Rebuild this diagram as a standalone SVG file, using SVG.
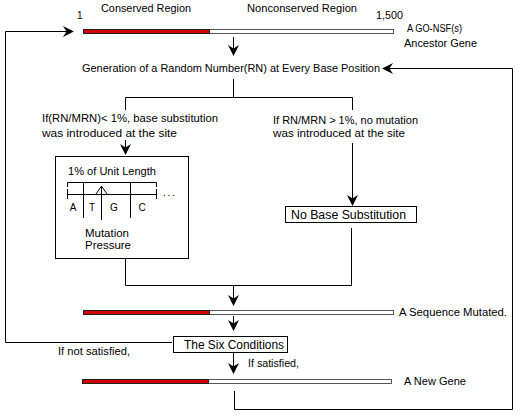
<svg xmlns="http://www.w3.org/2000/svg" width="523" height="416" viewBox="0 0 523 416">
<defs>
<style>
text{font-family:"Liberation Sans",Arial,sans-serif;font-size:10px;fill:#000}
.big{font-size:12px}
.ln{fill:none;stroke:#000;stroke-width:1}
.box{fill:#fff;stroke:#000;stroke-width:1}
.barw{fill:#fff;stroke:#555;stroke-width:1}
.barr{fill:#d00000;stroke:#222;stroke-width:1}
</style>
<marker id="ah" viewBox="0 0 12 12" refX="11" refY="6" markerWidth="12" markerHeight="11" orient="auto" markerUnits="userSpaceOnUse">
<path d="M0,0 L12,6 L0,12 L4,6 Z" fill="#000"/>
</marker>
</defs>
<rect width="523" height="416" fill="#fff"/>

<g id="connectors">
<path class="ln" d="M233.5,37 V55" marker-end="url(#ah)"/>
<path class="ln" d="M172,342.5 H5.5 V31.5 H73" marker-end="url(#ah)"/>
<path class="ln" d="M234.5,391 V409.5 H512.5 V68.5 H383" marker-end="url(#ah)"/>
<path class="ln" d="M233.5,79 V97.5"/>
<path class="ln" d="M125.5,110 V97.5 H352.5 V110"/>
<path class="ln" d="M125.5,140 V154" marker-end="url(#ah)"/>
<path class="ln" d="M352.5,143 V205" marker-end="url(#ah)"/>
<path class="ln" d="M125.5,259 V285.5 H351.5 V228"/>
<path class="ln" d="M233.5,285.5 V305" marker-end="url(#ah)"/>
<path class="ln" d="M233.5,316 V330" marker-end="url(#ah)"/>
<path class="ln" d="M233.5,353 V373" marker-end="url(#ah)"/>
</g>

<g id="ancestor-gene">
<rect class="barw" x="83.5" y="29.5" width="310" height="4"/>
<rect class="barr" x="83.5" y="29.5" width="126" height="4"/>
<text x="77" y="19">1</text>
<text x="101" y="12" textLength="90" lengthAdjust="spacingAndGlyphs">Conserved Region</text>
<text x="247" y="12" textLength="110" lengthAdjust="spacingAndGlyphs">Nonconserved Region</text>
<text x="376" y="19" textLength="27" lengthAdjust="spacingAndGlyphs">1,500</text>
<text x="407" y="32" textLength="55" lengthAdjust="spacingAndGlyphs">A GO-NSF(s)</text>
<text x="404" y="47" textLength="73" lengthAdjust="spacingAndGlyphs">Ancestor Gene</text>
</g>

<g id="generation">
<text x="82" y="72" textLength="298" lengthAdjust="spacingAndGlyphs">Generation of a Random Number(RN) at Every Base Position</text>
</g>

<g id="cond-left">
<text x="42" y="122" textLength="176" lengthAdjust="spacingAndGlyphs">If(RN/MRN)&lt; 1%, base substitution</text>
<text x="42" y="137" textLength="135" lengthAdjust="spacingAndGlyphs">was introduced at the site</text>
</g>

<g id="cond-right">
<text x="273" y="124" textLength="145" lengthAdjust="spacingAndGlyphs">If RN/MRN &gt; 1%, no mutation</text>
<text x="273" y="137" textLength="132" lengthAdjust="spacingAndGlyphs">was introduced at the site</text>
</g>

<g id="mutation-box">
<rect class="box" x="55.5" y="156.5" width="133" height="102"/>
<text x="68" y="175" textLength="88" lengthAdjust="spacingAndGlyphs">1% of Unit Length</text>
<path class="ln" d="M67.5,187 V182.5 H156.5 V187"/>
<path class="ln" d="M67.5,194.5 H156.5 M67.5,189 V199 M156.5,189 V199"/>
<path class="ln" d="M83.5,183 V218 M130.5,183 V218"/>
<path class="ln" d="M101.5,187 V220 M96,194 L101.5,186 L107,194"/>
<text x="163" y="196" textLength="12" lengthAdjust="spacing">. . .</text>
<text x="73" y="211" text-anchor="middle">A</text>
<text x="92" y="211" text-anchor="middle">T</text>
<text x="114" y="211" text-anchor="middle">G</text>
<text x="142" y="211" text-anchor="middle">C</text>
<text x="85" y="237" textLength="44" lengthAdjust="spacingAndGlyphs">Mutation</text>
<text x="85" y="249" textLength="46" lengthAdjust="spacingAndGlyphs">Pressure</text>
</g>

<g id="no-substitution">
<rect class="box" x="285.5" y="206.5" width="131" height="16"/>
<text class="big" x="291" y="219" textLength="115" lengthAdjust="spacingAndGlyphs">No Base Substitution</text>
</g>

<g id="mutated-sequence">
<rect class="barw" x="83.5" y="310.5" width="310" height="4"/>
<rect class="barr" x="83.5" y="310.5" width="126" height="4"/>
<text x="399" y="316" textLength="108" lengthAdjust="spacingAndGlyphs">A Sequence Mutated.</text>
</g>

<g id="six-conditions">
<rect class="box" x="173.5" y="336.5" width="114" height="16"/>
<text class="big" x="184" y="348.5" textLength="100" lengthAdjust="spacingAndGlyphs">The Six Conditions</text>
<text x="58" y="355" textLength="72" lengthAdjust="spacingAndGlyphs">If not satisfied,</text>
<text x="248" y="367" textLength="51" lengthAdjust="spacingAndGlyphs">If satisfied,</text>
</g>

<g id="new-gene">
<rect class="barw" x="82.5" y="379.5" width="309" height="4"/>
<rect class="barr" x="82.5" y="379.5" width="126" height="4"/>
<text x="404" y="385" textLength="62" lengthAdjust="spacingAndGlyphs">A New Gene</text>
</g>
</svg>
